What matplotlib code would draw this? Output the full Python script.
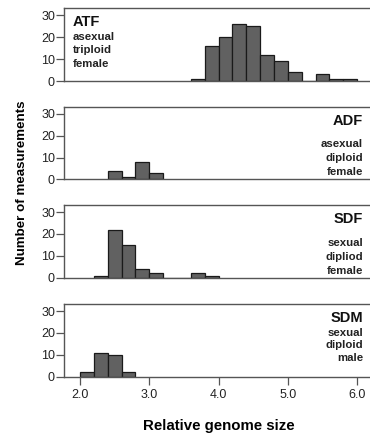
import numpy as np
import matplotlib
matplotlib.use("Agg")
import matplotlib.pyplot as plt

plt.rcParams['font.family'] = ['Liberation Sans', 'DejaVu Sans']

# histogram data: left edge of each 0.2-wide bin and counts
bin_width = 0.2
atf_bins = [3.6, 3.8, 4.0, 4.2, 4.4, 4.6, 4.8, 5.0, 5.2, 5.4, 5.6, 5.8]
atf_counts = [1, 16, 20, 26, 25, 12, 9, 4, 0, 3, 1, 1]
adf_bins = [2.4, 2.6, 2.8, 3.0]
adf_counts = [4, 1, 8, 3]
sdf_bins = [2.2, 2.4, 2.6, 2.8, 3.0, 3.2, 3.4, 3.6, 3.8]
sdf_counts = [1, 22, 15, 4, 2, 0, 0, 2, 1]
sdm_bins = [2.0, 2.2, 2.4, 2.6]
sdm_counts = [2, 11, 10, 2]

panel_names = ["ATF", "ADF", "SDF", "SDM"]
panel_desc = [["asexual", "triploid", "female"],
              ["asexual", "diploid", "female"],
              ["sexual", "dipliod", "female"],
              ["sexual", "diploid", "male"]]
yticks = [0, 10, 20, 30]
xticks = [2.0, 3.0, 4.0, 5.0, 6.0]
xticklabels = ["2.0", "3.0", "4.0", "5.0", "6.0"]

bins_all = [atf_bins, adf_bins, sdf_bins, sdm_bins]
counts_all = [atf_counts, adf_counts, sdf_counts, sdm_counts]

W, H = 370, 433
fig = plt.figure(figsize=(W/100, H/100), dpi=100)

tops = [8.3, 106.7, 205, 304]
ax_h = 72.7
left = 64
# label layout per panel: (side, title offset, sub-line offsets) in px below top
layouts = [("left", 13.5, [29, 42, 55.5]),
           ("right", 14, [37, 51, 65]),
           ("right", 14, [38, 52, 66]),
           ("right", 13.7, [29, 41.5, 54])]

spine_col = "#555555"
for i in range(4):
    ax = fig.add_axes([left/W, 1 - (tops[i] + ax_h)/H, (W - left)/W + 0.01, ax_h/H])
    ax.bar(bins_all[i], counts_all[i], width=bin_width, align="edge",
           color="#616161", edgecolor="#1a1a1a", linewidth=0.9, zorder=2)
    ax.set_xlim(1.77, 6.24)
    ax.set_ylim(0, 33.2)
    ax.set_yticks(yticks)
    ax.set_yticklabels([str(t) for t in yticks])
    ax.spines['right'].set_visible(False)
    for s in ['left', 'top', 'bottom']:
        ax.spines[s].set_color(spine_col)
        ax.spines[s].set_linewidth(1.0)
    ax.tick_params(axis='y', direction='out', length=6, width=0.9, color=spine_col,
                   labelsize=9, pad=0.5, labelcolor="#222222")
    if i < 3:
        ax.set_xticks([])
    else:
        ax.set_xticks(xticks)
        ax.set_xticklabels(xticklabels)
        ax.tick_params(axis='x', direction='out', length=6, width=0.9, color=spine_col,
                       labelsize=9, pad=2.5, labelcolor="#222222")
        ax.set_xlabel("Relative genome size", fontsize=10.8, fontweight="bold", labelpad=13)

    side, toff, suboffs = layouts[i]
    if side == "left":
        xt, ha = 73, "left"
    else:
        xt, ha = 363, "right"
    fig.text(xt/W, 1 - (tops[i] + toff)/H, panel_names[i], ha=ha, va="center",
             fontsize=10.5, fontweight="bold", color="#111111")
    for line, off in zip(panel_desc[i], suboffs):
        fig.text(xt/W, 1 - (tops[i] + off)/H, line, ha=ha, va="center",
                 fontsize=8.2, fontweight="bold", color="#222222")

fig.text(22/W, 1 - 183/H, "Number of measurements", rotation=90, ha="center", va="center",
         fontsize=9.6, fontweight="bold")

fig.savefig("out.png", dpi=100)
